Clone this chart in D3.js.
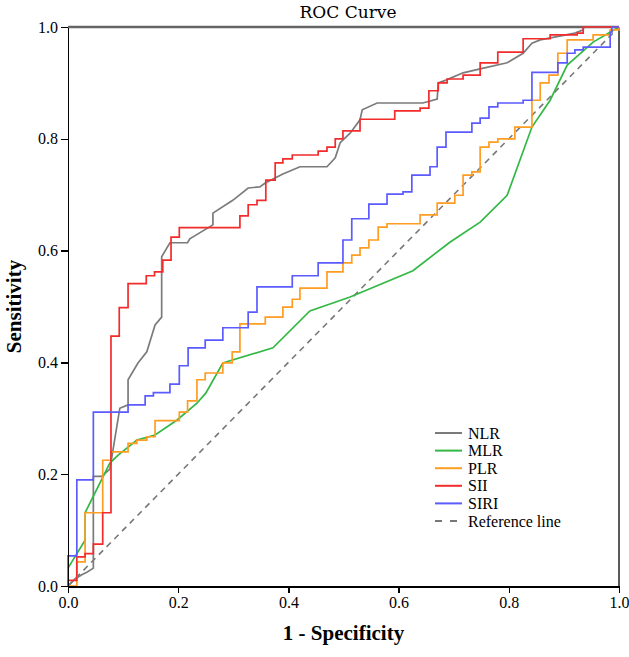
<!DOCTYPE html>
<html lang="en">
<head>
<meta charset="utf-8">
<title>ROC Curve</title>
<script src="https://cdn.jsdelivr.net/npm/d3@7"></script>
<style>
  body { margin: 0; background: #fff; }
  svg text { font-family: "Liberation Serif", "Times New Roman", serif; fill: #000; }
  .axis path, .axis line { stroke: #000; shape-rendering: crispEdges; }
</style>
</head>
<body>
<script>
// axis ticks
var tickVals = [0, 0.2, 0.4, 0.6, 0.8, 1.0];

// series names, in legend order
var seriesNames = ["NLR", "MLR", "PLR", "SII", "SIRI"];

// [1 - specificity, sensitivity]
var nlrPts = [[0,0],[0.012,0.012],[0.025,0.02],[0.035,0.025],[0.046,0.032],[0.046,0.196],[0.061,0.196],
  [0.076,0.209],[0.094,0.318],[0.109,0.324],[0.109,0.369],[0.127,0.399],[0.143,0.419],[0.158,0.467],
  [0.170,0.481],[0.170,0.589],[0.185,0.614],[0.217,0.614],[0.221,0.621],[0.263,0.646],[0.263,0.667],
  [0.299,0.690],[0.327,0.712],[0.348,0.714],[0.358,0.721],[0.390,0.737],[0.421,0.750],[0.470,0.750],
  [0.485,0.766],[0.494,0.793],[0.512,0.810],[0.530,0.834],[0.534,0.852],[0.561,0.864],[0.644,0.864],
  [0.670,0.871],[0.672,0.900],[0.686,0.905],[0.717,0.918],[0.748,0.925],[0.797,0.936],[0.826,0.953],
  [0.842,0.971],[0.857,0.977],[0.920,0.989],[0.935,0.995],[0.936,1],[1,1]];

var mlrPts = [[0,0.032],[0.031,0.082],[0.031,0.131],[0.076,0.220],[0.091,0.234],[0.125,0.261],
  [0.158,0.270],[0.198,0.297],[0.234,0.327],[0.250,0.345],[0.281,0.399],[0.372,0.426],[0.439,0.492],
  [0.512,0.517],[0.626,0.564],[0.693,0.615],[0.748,0.651],[0.797,0.699],[0.842,0.821],[0.875,0.869],
  [0.906,0.932],[0.953,0.973],[1,1]];

// step curves: at x the curve climbs to y
var plrPts = [[0,0],[0.016,0.043],[0.031,0.131],[0.063,0.225],[0.078,0.240],[0.109,0.255],[0.125,0.261],
  [0.143,0.267],[0.158,0.296],[0.202,0.311],[0.217,0.331],[0.234,0.369],[0.249,0.381],[0.281,0.399],
  [0.298,0.419],[0.312,0.469],[0.358,0.481],[0.390,0.499],[0.407,0.513],[0.421,0.533],[0.470,0.562],
  [0.499,0.578],[0.515,0.592],[0.530,0.605],[0.546,0.619],[0.563,0.642],[0.579,0.648],[0.639,0.664],
  [0.670,0.685],[0.702,0.699],[0.717,0.735],[0.733,0.741],[0.748,0.785],[0.764,0.794],[0.780,0.800],
  [0.811,0.821],[0.842,0.869],[0.857,0.900],[0.873,0.914],[0.889,0.953],[0.906,0.977],[0.953,0.986],
  [0.984,0.995],[1,1]];

var siiPts = [[0,0],[0,0.01],[0.016,0.052],[0.031,0.058],[0.046,0.075],[0.063,0.131],[0.078,0.447],
  [0.093,0.498],[0.109,0.541],[0.142,0.555],[0.157,0.562],[0.172,0.583],[0.187,0.624],[0.202,0.641],
  [0.312,0.662],[0.327,0.682],[0.343,0.690],[0.359,0.726],[0.376,0.757],[0.390,0.764],[0.407,0.771],
  [0.454,0.778],[0.470,0.785],[0.485,0.800],[0.499,0.814],[0.530,0.835],[0.593,0.850],[0.639,0.855],
  [0.655,0.886],[0.672,0.900],[0.688,0.907],[0.717,0.914],[0.748,0.936],[0.780,0.955],[0.826,0.979],
  [0.875,0.986],[0.924,0.989],[0.935,1.0],[1,1]];

var siriPts = [[0,0],[0,0.054],[0.016,0.19],[0.046,0.311],[0.109,0.324],[0.140,0.340],[0.155,0.346],
  [0.185,0.361],[0.202,0.394],[0.218,0.426],[0.249,0.440],[0.281,0.462],[0.327,0.490],[0.343,0.535],
  [0.407,0.555],[0.454,0.578],[0.499,0.619],[0.515,0.657],[0.546,0.683],[0.579,0.701],[0.608,0.705],
  [0.624,0.735],[0.657,0.750],[0.670,0.785],[0.686,0.812],[0.733,0.828],[0.748,0.837],[0.764,0.857],
  [0.780,0.864],[0.826,0.869],[0.842,0.919],[0.889,0.936],[0.906,0.953],[0.920,0.959],[0.935,0.964],
  [0.984,0.991],[0.987,1],[1,1]];

var refPts = [[0,0],[1,1]];

var colors = {NLR: "#7b7b7b", MLR: "#33b845", PLR: "#ff9c22", SII: "#f32b2b", SIRI: "#5b5bff"};

var W = 629, H = 657;
var margin = {top: 27, right: 10, bottom: 71, left: 68};
var width = W - margin.left - margin.right,
    height = H - margin.top - margin.bottom;

var svg = d3.select("body").append("svg")
    .attr("width", W)
    .attr("height", H);

var g = svg.append("g")
    .attr("transform", "translate(" + margin.left + "," + margin.top + ")");

var x = d3.scaleLinear().domain([0, 1]).range([0, width]);
var y = d3.scaleLinear().domain([0, 1]).range([height, 0]);

// frame: grey top, black right
g.append("line").attr("x1", 0).attr("x2", width).attr("y1", 0).attr("y2", 0)
    .attr("stroke", "#666").attr("stroke-width", 2.5);
g.append("line").attr("x1", width).attr("x2", width).attr("y1", 0).attr("y2", height)
    .attr("stroke", "#222").attr("stroke-width", 1.5);

var lin = d3.line().x(function(d) { return x(d[0]); }).y(function(d) { return y(d[1]); });
var step = d3.line().x(function(d) { return x(d[0]); }).y(function(d) { return y(d[1]); })
    .curve(d3.curveStepAfter);

var series = [
  {name: "NLR", pts: nlrPts, gen: lin},
  {name: "MLR", pts: mlrPts, gen: lin},
  {name: "PLR", pts: plrPts, gen: step},
  {name: "SII", pts: siiPts, gen: step},
  {name: "SIRI", pts: siriPts, gen: step}
];

g.append("path")
    .attr("d", lin(refPts))
    .attr("fill", "none")
    .attr("stroke", "#777")
    .attr("stroke-width", 1.6)
    .attr("stroke-dasharray", "6,5");

series.forEach(function(s) {
  g.append("path")
      .attr("d", s.gen(s.pts))
      .attr("fill", "none")
      .attr("stroke", colors[s.name])
      .attr("stroke-width", 1.7)
      .attr("stroke-linejoin", "miter");
});

// axes
var xAxis = d3.axisBottom(x).tickValues(tickVals).tickFormat(d3.format(".1f"))
    .tickSizeInner(7).tickSizeOuter(0).tickPadding(4);
var yAxis = d3.axisLeft(y).tickValues(tickVals).tickFormat(d3.format(".1f"))
    .tickSizeInner(7).tickSizeOuter(0).tickPadding(3);

var gx = g.append("g").attr("class", "axis")
    .attr("transform", "translate(0," + height + ")")
    .call(xAxis);
gx.select(".domain").attr("stroke-width", 2);
gx.selectAll("line").attr("stroke-width", 1.5);

var gy = g.append("g").attr("class", "axis").call(yAxis);
gy.select(".domain").attr("stroke-width", 1.5);
gy.selectAll("line").attr("stroke-width", 1.5);

svg.selectAll(".axis text")
    .style("font-family", "'Liberation Serif', serif")
    .style("font-size", "16px")
    .attr("fill", "#000");

// titles
svg.append("text")
    .attr("x", 348)
    .attr("y", 18)
    .attr("text-anchor", "middle")
    .style("font-family", "'DejaVu Serif', serif")
    .style("font-size", "17px")
    .text("ROC Curve");

svg.append("text")
    .attr("x", margin.left + width / 2)
    .attr("y", 640)
    .attr("text-anchor", "middle")
    .style("font-size", "21px")
    .style("font-weight", "bold")
    .text("1 - Specificity");

svg.append("text")
    .attr("transform", "translate(21," + (margin.top + height / 2) + ") rotate(-90)")
    .attr("text-anchor", "middle")
    .style("font-size", "21px")
    .style("font-weight", "bold")
    .text("Sensitivity");

// legend
var legendNames = seriesNames.concat(["Reference line"]);
var legend = svg.selectAll(".legend")
    .data(legendNames)
  .enter().append("g")
    .attr("class", "legend")
    .attr("transform", function(d, i) { return "translate(435," + (433 + i * 17.6) + ")"; });

legend.append("line")
    .attr("x1", 0).attr("x2", 27)
    .attr("stroke", function(d) { return colors[d] || "#777"; })
    .attr("stroke-width", 2)
    .attr("stroke-dasharray", function(d) { return colors[d] ? null : "7,8"; });

legend.append("text")
    .attr("x", 33)
    .attr("dy", "0.35em")
    .style("font-size", "16px")
    .text(function(d) { return d; });
</script>
</body>
</html>
